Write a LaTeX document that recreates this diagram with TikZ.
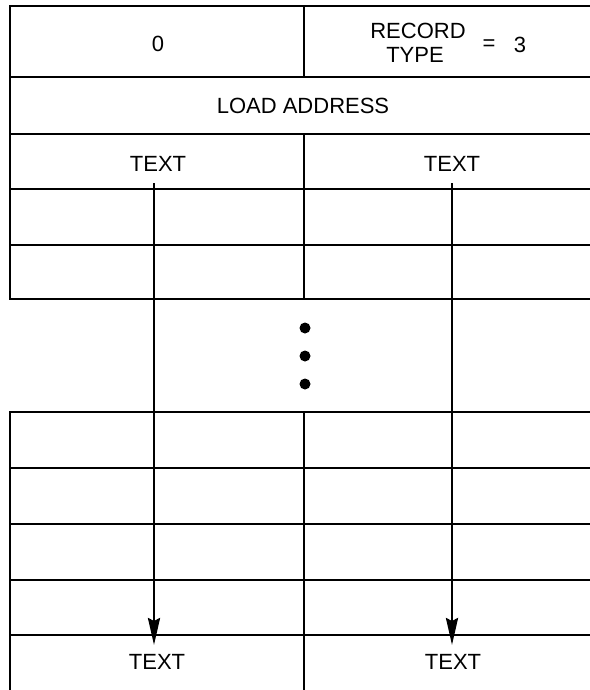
\documentclass[tikz,border=0pt]{standalone}
\usepackage{fontspec}
\setmainfont{Liberation Sans}
\usetikzlibrary{arrows.meta}
\begin{document}
\begin{tikzpicture}[x=1pt,y=-1pt,
  rule/.style={line width=2.8pt, line cap=rect, line join=miter},
  lbl/.style={font=\fontsize{22}{24}\selectfont, inner sep=0pt},
  flow/.style={line width=2.8pt, -{Stealth[length=27pt,width=12pt,inset=3pt]}},
  dotmark/.style={circle, fill=black, minimum size=11pt, inner sep=0pt}]
\useasboundingbox (0,0) rectangle (589,690);
% upper block
\draw[rule] (589,6) -- (10,6) -- (10,299) -- (589,299);
\foreach \yy in {77,134,189,245} \draw[rule] (10,\yy) -- (589,\yy);
\draw[rule] (304,6) -- (304,77);
\draw[rule] (304,134) -- (304,299);
% lower block
\draw[rule] (589,412) -- (10,412) -- (10,690);
\foreach \yy in {468,524,580,635} \draw[rule] (10,\yy) -- (589,\yy);
\draw[rule] (304,412) -- (304,690);
% labels
\node[lbl] (zero) at (158,44) {0};
\node[lbl] (rec) at (418,31) {RECORD};
\node[lbl] (typ) at (415,55) {TYPE};
\node[lbl] (eq) at (489,45) {=};
\node[lbl] (three) at (520,45) {3};
\node[lbl] (load) at (303,106) {LOAD ADDRESS};
\node[lbl] (t1) at (158,164) {TEXT};
\node[lbl] (t2) at (452,164) {TEXT};
\node[lbl] (b1) at (157,662) {TEXT};
\node[lbl] (b2) at (453,662) {TEXT};
% continuation dots
\node[dotmark] (d1) at (305,328) {};
\node[dotmark] (d2) at (305,356) {};
\node[dotmark] (d3) at (305,384) {};
% arrows
\coordinate (s1) at (154,183);
\coordinate (e1) at (154,645);
\coordinate (s2) at (452,183);
\coordinate (e2) at (452,645);
\draw[flow] (s1) -- (e1);
\draw[flow] (s2) -- (e2);
\end{tikzpicture}
\end{document}
